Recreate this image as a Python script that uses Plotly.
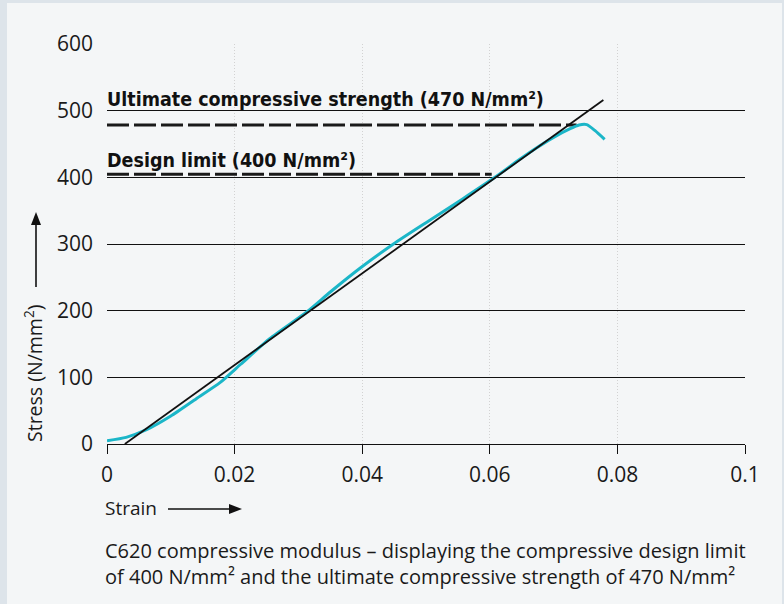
import plotly.graph_objects as go

# ---- data ----
curve_strain = [0.0, 0.003, 0.0062, 0.010, 0.014, 0.0177, 0.021, 0.0255,
                0.0313, 0.035, 0.0397, 0.0449, 0.050, 0.0558, 0.0608, 0.0647,
                0.0673, 0.0700, 0.0726, 0.0740, 0.0752, 0.0765, 0.0780]
curve_stress = [5, 10, 21.5, 42, 68, 92, 120, 158,
                198, 228, 264, 300, 332, 368, 400, 427,
                444, 460, 473, 478.5, 479, 470, 457]

modulus_strain = [0.0028, 0.0778]
modulus_stress = [0, 516]

ultimate_strain = [0.0, 0.0736]
ultimate_stress = [478.5, 478.5]
design_strain = [0.0, 0.0603]
design_stress = [404.5, 404.5]

ultimate_label = "Ultimate compressive strength (470 N/mm²)"
design_label = "Design limit (400 N/mm²)"

x_ticks = [0, 0.02, 0.04, 0.06, 0.08, 0.1]
x_ticktext = ["0", "0.02", "0.04", "0.06", "0.08", "0.1"]
y_ticks = [0, 100, 200, 300, 400, 500, 600]

caption = ("C620 compressive modulus – displaying the compressive design limit<br>"
           "of 400 N/mm² and the ultimate compressive strength of 470 N/mm²")

# ---- figure ----
W, H = 784, 604
L, R, T, B = 107, 39, 44, 160
pw, ph = W - L - R, H - T - B

def px(xp):
    return (xp - L) / pw

def py(yp):
    return (H - B - yp) / ph

fig = go.Figure()

fig.add_trace(go.Scatter(x=ultimate_strain, y=ultimate_stress, mode="lines",
                         line=dict(color="#1a1a1a", width=3, dash="22px,5px"),
                         hoverinfo="skip"))
fig.add_trace(go.Scatter(x=design_strain, y=design_stress, mode="lines",
                         line=dict(color="#1a1a1a", width=3, dash="22px,5px"),
                         hoverinfo="skip"))
fig.add_trace(go.Scatter(x=curve_strain, y=curve_stress, mode="lines",
                         line=dict(color="#1bb6c8", width=3, shape="spline", smoothing=0.6)))
fig.add_trace(go.Scatter(x=modulus_strain, y=modulus_stress, mode="lines",
                         line=dict(color="#111111", width=1.8)))

label_font = dict(family="DejaVu Sans Condensed, DejaVu Sans", size=19.5, color="#111111")
fig.add_annotation(x=0, y=497, xref="x", yref="y", xanchor="left", yanchor="bottom",
                   text="<b>" + ultimate_label + "</b>", showarrow=False, font=label_font,
                   xshift=-2)
fig.add_annotation(x=0, y=405.5, xref="x", yref="y", xanchor="left", yanchor="bottom",
                   text="<b>" + design_label + "</b>", showarrow=False, font=label_font,
                   xshift=-2)

text_font = dict(family="Open Sans", size=19, color="#1a1a1a")

# Strain label
fig.add_annotation(x=px(103), y=py(508), xref="paper", yref="paper", xanchor="left",
                   yanchor="middle", text="Strain", showarrow=False, font=text_font)
# Stress label
fig.add_annotation(x=px(33), y=py(374), xref="paper", yref="paper", xanchor="center",
                   yanchor="middle", text="Stress (N/mm<sup>2</sup>)", textangle=-90,
                   showarrow=False, font=dict(family="Open Sans", size=19.5, color="#1a1a1a"))

# caption
fig.add_annotation(x=px(103), y=py(535), xref="paper", yref="paper", xanchor="left",
                   yanchor="top", align="left", text=caption, showarrow=False,
                   font=dict(family="Open Sans", size=20, color="#1a1a1a"))

# background panel
fig.add_shape(type="rect", xref="paper", yref="paper", x0=px(7), x1=px(782),
              y0=py(3), y1=py(610), fillcolor="#f4f6f7", line=dict(width=0),
              layer="below")

# arrows (drawn as shapes in paper space)
arrow_line = dict(color="#111111", width=1.6)
# horizontal arrow next to "Strain"
fig.add_shape(type="line", xref="paper", yref="paper", x0=px(168), x1=px(232),
              y0=py(509), y1=py(509), line=arrow_line)
fig.add_shape(type="path", xref="paper", yref="paper",
              path=f"M {px(242)} {py(509)} L {px(229)} {py(504)} L {px(229)} {py(514)} Z",
              fillcolor="#111111", line=dict(width=0))
# vertical arrow above "Stress"
fig.add_shape(type="line", xref="paper", yref="paper", x0=px(36), x1=px(36),
              y0=py(287), y1=py(222), line=arrow_line)
fig.add_shape(type="path", xref="paper", yref="paper",
              path=f"M {px(36)} {py(212)} L {px(31)} {py(225)} L {px(41)} {py(225)} Z",
              fillcolor="#111111", line=dict(width=0))

tick_font = dict(family="Open Sans", size=21, color="#1a1a1a")
fig.update_layout(
    width=W, height=H,
    margin=dict(l=L, r=R, t=T, b=B),
    paper_bgcolor="#dde4ea",
    plot_bgcolor="rgba(0,0,0,0)",
    showlegend=False,
    font=dict(family="Open Sans", size=19, color="#1a1a1a"),
    xaxis=dict(range=[0, 0.1], tickvals=x_ticks, ticktext=x_ticktext,
               showgrid=True, gridcolor="#d2d2d2", griddash="1px,2px", gridwidth=1,
               showline=True, linecolor="#111111", linewidth=1.4,
               ticks="outside", ticklen=9, tickwidth=1.4, tickcolor="#111111",
               ticklabelstandoff=3, zeroline=False, tickfont=tick_font),
    yaxis=dict(range=[0, 600], tickvals=y_ticks,
               showgrid=True, gridcolor="#111111", gridwidth=1.3,
               showline=False, zeroline=False, ticks="",
               ticklabelstandoff=13, tickfont=tick_font),
)

fig.write_html("out.html", config={"displayModeBar": False},
               post_script="document.body.style.margin='0';")
